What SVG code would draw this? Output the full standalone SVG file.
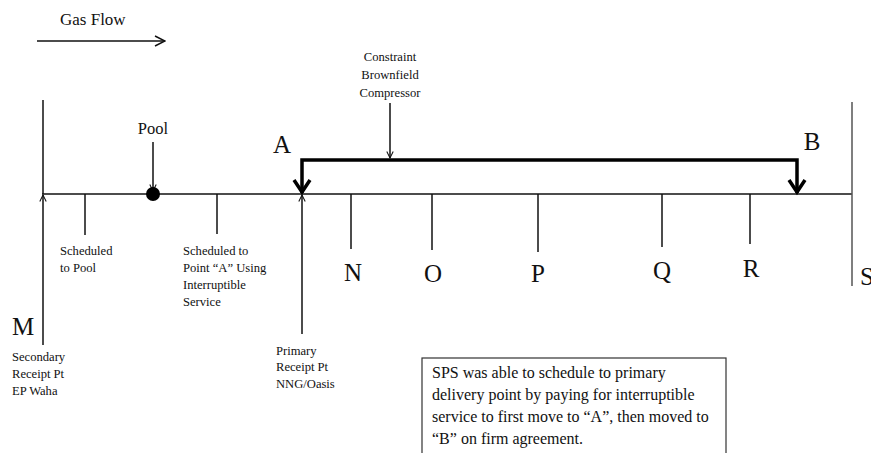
<svg xmlns="http://www.w3.org/2000/svg" width="871" height="453" viewBox="0 0 871 453">
<style>
text { fill: #111; }
.sm { font-size: 12.6px; }
.big { font-size: 25px; }
.note { font-size: 16px; }
.ln { stroke: #111; stroke-width: 1.5; fill: none; }
.gr { stroke: #555; stroke-width: 1.5; fill: none; }
.thick { stroke: #000; stroke-width: 3.5; fill: none; }
</style>
<defs>
<marker id="open" viewBox="0 0 10 10" refX="9" refY="5" markerWidth="8" markerHeight="8" markerUnits="userSpaceOnUse" orient="auto">
<path d="M1,1 L9,5 L1,9" fill="none" stroke="#111" stroke-width="1.3"/>
</marker>
<marker id="openBig" viewBox="0 0 12 12" refX="11" refY="6" markerWidth="12" markerHeight="12" markerUnits="userSpaceOnUse" orient="auto">
<path d="M1,1 L11,6 L1,11" fill="none" stroke="#111" stroke-width="1.5"/>
</marker>
</defs>

<g font-family="Liberation Serif, DejaVu Serif, serif">
<g id="gas-flow">
<text x="60" y="25" style="font-size:17px">Gas Flow</text>
<line class="ln" x1="37" y1="41" x2="165" y2="41" marker-end="url(#openBig)"/>
</g>

<g id="connectors">
<line class="ln" x1="42" y1="194" x2="852" y2="194"/>
<line class="ln" x1="43" y1="100" x2="43" y2="194"/>
<line class="ln" x1="43" y1="345" x2="43" y2="195" marker-end="url(#open)"/>
<line class="ln" x1="85" y1="194" x2="85" y2="235"/>
<line class="ln" x1="153" y1="142" x2="153" y2="191" marker-end="url(#open)"/>
<line class="ln" x1="217" y1="194" x2="217" y2="234"/>
<line class="ln" x1="302" y1="334" x2="302" y2="195" marker-end="url(#open)"/>
<line class="ln" x1="351" y1="194" x2="351" y2="249"/>
<line class="ln" x1="432" y1="194" x2="432" y2="250"/>
<line class="ln" x1="538" y1="194" x2="538" y2="252"/>
<line class="ln" x1="662" y1="194" x2="662" y2="247"/>
<line class="ln" x1="750" y1="194" x2="750" y2="244"/>
<line class="gr" x1="852" y1="102" x2="852" y2="194"/>
<line class="gr" x1="852" y1="194" x2="852" y2="286"/>
<line class="ln" x1="390" y1="103" x2="390" y2="158" marker-end="url(#open)"/>
<path class="thick" d="M302,193 L302,160 L797,160 L797,193" />
<path d="M294,180 L302,192 L310,180" fill="none" stroke="#000" stroke-width="3.5"/>
<path d="M789,180 L797,192 L805,180" fill="none" stroke="#000" stroke-width="3.5"/>
</g>

<g id="pool">
<circle cx="153" cy="194" r="7" fill="#000"/>
<text x="153" y="134" text-anchor="middle" style="font-size:16.5px">Pool</text>
</g>

<g id="constraint">
<text class="sm" x="390" y="61" text-anchor="middle">Constraint</text>
<text class="sm" x="390" y="79" text-anchor="middle">Brownfield</text>
<text class="sm" x="390" y="97" text-anchor="middle">Compressor</text>
</g>

<g id="node-M">
<text class="big" x="12" y="335">M</text>
<text class="sm" x="12" y="361">Secondary</text>
<text class="sm" x="12" y="378">Receipt Pt</text>
<text class="sm" x="12" y="395">EP Waha</text>
</g>

<g id="sched-pool">
<text class="sm" x="60" y="255">Scheduled</text>
<text class="sm" x="60" y="272">to Pool</text>
</g>

<g id="sched-A">
<text class="sm" x="183" y="255">Scheduled to</text>
<text class="sm" x="183" y="272">Point “A” Using</text>
<text class="sm" x="183" y="289">Interruptible</text>
<text class="sm" x="183" y="306">Service</text>
</g>

<g id="node-A">
<text class="big" x="282" y="153" text-anchor="middle">A</text>
<text class="sm" x="276" y="355">Primary</text>
<text class="sm" x="276" y="371">Receipt Pt</text>
<text class="sm" x="276" y="388">NNG/Oasis</text>
</g>

<g id="node-B"><text class="big" x="812" y="150" text-anchor="middle">B</text></g>
<g id="node-N"><text class="big" x="353" y="281" text-anchor="middle">N</text></g>
<g id="node-O"><text class="big" x="433" y="282" text-anchor="middle">O</text></g>
<g id="node-P"><text class="big" x="538" y="282" text-anchor="middle">P</text></g>
<g id="node-Q"><text class="big" x="662" y="279" text-anchor="middle">Q</text></g>
<g id="node-R"><text class="big" x="751" y="277" text-anchor="middle">R</text></g>
<g id="node-S"><text class="big" x="860" y="285">S</text></g>

<g id="note">
<rect x="422" y="358" width="304" height="100" fill="#fff" stroke="#333" stroke-width="1.2"/>
<text class="note" x="432" y="378">SPS was able to schedule to primary</text>
<text class="note" x="432" y="400">delivery point by paying for interruptible</text>
<text class="note" x="432" y="422">service to first move to “A”, then moved to</text>
<text class="note" x="432" y="444">“B” on firm agreement.</text>
</g>
</g>
</svg>
